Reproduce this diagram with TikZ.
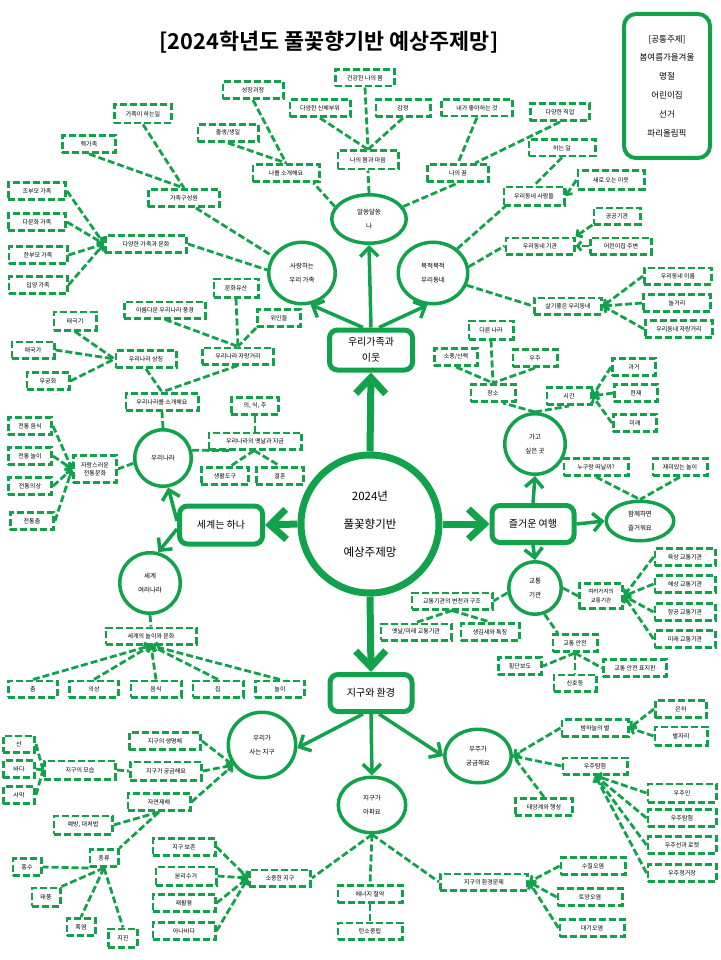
\documentclass[tikz,border=0pt]{standalone}
\usepackage{fontspec}
\setmainfont{Noto Sans CJK KR}
\newfontfamily\tfont{Noto Sans CJK KR Bold}
\usetikzlibrary{shapes.geometric,arrows.meta,calc}
\definecolor{G}{HTML}{12A24B}
\tikzset{
  db/.style={draw=G, line width=2.8pt, dash pattern=on 7pt off 3pt, inner sep=1pt, align=center, font=\fontsize{6}{7.5}\selectfont},
  dl/.style={draw=G, line width=2.8pt, dash pattern=on 7pt off 3pt},
  da/.style={dl, -{Straight Barb[length=4pt,width=9pt]}},
  el/.style={draw=G, line width=3.5pt, ellipse, inner sep=0pt, align=center, font=\fontsize{6.5}{13.5}\selectfont},
  cl/.style={draw=G, line width=3.5pt, circle, inner sep=0pt, align=center, font=\fontsize{6.5}{13.5}\selectfont},
  mb/.style={draw=G, line width=5pt, rounded corners=8pt, align=center, font=\fontsize{10}{16}\selectfont},
  big/.style={draw=G, line width=7pt, -{Straight Barb[length=16pt,width=30pt]}},
  mid/.style={draw=G, line width=3.5pt, -{Straight Barb[length=9pt,width=18pt]}}
}
\newcommand\bx[6]{\node[db,minimum width={#4pt-2.8pt},minimum height={#5pt-2.8pt}] (#1) at (#2,#3) {#6};}
\newcommand\elp[6]{\node[el,minimum width={#4pt-3.5pt},minimum height={#5pt-3.5pt}] (#1) at (#2,#3) {#6};}
\newcommand\crc[5]{\node[cl,minimum size={#4pt-3.5pt}] (#1) at (#2,#3) {#5};}
\begin{document}
\begin{tikzpicture}[x=1pt,y=-1pt]
\useasboundingbox (0,0) rectangle (720,960);
% title and common theme
\node[font=\tfont\fontsize{21.8}{25}\selectfont] (title) at (329,42) {[2024학년도 풀꽃향기반 예상주제망]};
\node[draw=G, line width=4pt, rounded corners=12pt, minimum width=86pt, minimum height=144pt, align=center, font=\fontsize{8.5}{18.8}\selectfont] (ct) at (667,86) {[공통주제]\\봄여름가을겨울\\명절\\어린이집\\선거\\파리올림픽};
% center
\node[draw=G, line width=7pt, circle, minimum size=138pt, align=center, font=\fontsize{11.5}{28}\selectfont] (C) at (370,524) {2024년\\풀꽃향기반\\예상주제망};
\node[mb, minimum width=83pt, minimum height=40pt] (B1) at (371,350) {우리가족과\\이웃};
\node[mb, minimum width=83pt, minimum height=38pt] (B2) at (221,525) {세계는 하나};
\node[mb, minimum width=82pt, minimum height=37pt] (B3) at (533,524) {즐거운 여행};
\node[mb, minimum width=82pt, minimum height=37pt] (B4) at (371,693) {지구와 환경};
\draw[big] (C.north) -- (B1.south);
\draw[big] (C.west) -- (B2.east);
\draw[big] (C.east) -- (B3.west);
\draw[big] (C.south) -- (B4.north);
% level 2
\elp{E1}{369}{219}{78}{52}{알쏭달쏭\\나}
\elp{E2}{302}{273}{70}{65}{사랑하는\\우리 가족}
\elp{E3}{433}{273}{73}{65}{북적북적\\우리동네}
\crc{E4}{163}{458}{60}{우리나라}
\crc{E5}{150}{583}{64}{세계\\여러나라}
\crc{E6}{535}{444}{64}{가고\\싶은 곳}
\elp{E7}{640}{521}{71}{43}{함께하면\\즐거워요}
\crc{E8}{535}{588}{56}{교통\\기관}
\elp{E9}{262}{745}{71}{69}{우리가\\사는 지구}
\elp{E10}{372}{805}{71}{59}{지구가\\아파요}
\elp{E11}{478}{756}{70}{57}{우주가\\궁금해요}
\draw[mid] (B1.north) -- (E1.south);
\draw[mid] ($(B1.north)+(-8,0)$) -- (E2.-75);
\draw[mid] ($(B1.north)+(8,0)$) -- (E3.-100);
\draw[mid] ($(B2.west)+(0,-4)$) -- (E4.-80);
\draw[mid] ($(B2.west)+(0,4)$) -- (E5.75);
\draw[mid] (B3.north) -- (E6.south);
\draw[mid] (B3.east) -- (E7.west);
\draw[mid] (B3.south) -- (E8.north);
\draw[mid] ($(B4.south)+(-8,0)$) -- (E9.-5);
\draw[mid] (B4.south) -- (E10.north);
\draw[mid] ($(B4.south)+(8,0)$) -- (E11.west);
% 알쏭달쏭 나
\bx{n1}{368}{160}{63}{21}{나의 몸과 마음}
\bx{n2}{365}{78}{62}{19}{건강한 나의 몸}
\bx{n3}{320}{108}{63}{20}{다양한 신체부위}
\bx{n4}{403}{108}{57}{20}{감정}
\bx{n5}{286}{173}{69}{20}{나를 소개해요}
\bx{n6}{253}{90}{63}{20}{성장과정}
\bx{n7}{228}{133}{63}{20}{출생/생일}
\bx{n8}{458}{173}{64}{20}{나의 꿈}
\bx{n9}{477}{108}{74}{19}{내가 좋아하는 것}
\bx{n10}{560}{112}{62}{20}{다양한 직업}
\draw[dl] (E1.north) -- (n1.south);
\draw[dl] (E1.160) -- (n5.-20);
\draw[dl] (E1.20) -- (n8.south);
\draw[dl] (n2.south) -- (n1.north);
\draw[dl] (n3.south) -- (n1.north);
\draw[dl] (n4.south) -- (n1.north);
\draw[dl] (n6.south) -- (n5.north);
\draw[dl] (n7.south) -- (n5.north);
\draw[dl] (n9.south) -- (n8.north);
\draw[dl] (n10.south) -- (n8.30);
% 북적북적 우리동네
\bx{n11}{562}{148}{69}{19}{하는 일}
\bx{n12}{534}{196}{63}{21}{우리동네 사람들}
\bx{n13}{611}{180}{69}{21}{새로 오는 이웃}
\bx{n14}{617}{216}{49}{19}{공공기관}
\bx{n15}{540}{246}{71}{19}{우리동네 기관}
\bx{n16}{621}{246}{64}{19}{어린이집 주변}
\bx{n17}{568}{306}{70}{19}{살기좋은 우리동네}
\bx{n18}{678}{276}{70}{19}{우리동네 이름}
\bx{n19}{677}{303}{70}{20}{놀거리}
\bx{n20}{679}{329}{70}{20}{우리동네 자랑거리}
\draw[dl] (E3.45) -- (n12.200);
\draw[dl] (E3.10) -- (n15.west);
\draw[dl] (E3.-20) -- (n17.west);
\draw[dl] (n11.south) -- (n12.north);
\draw[da] (n13.west) -- (n12.east);
\draw[da] (n14.200) -- (n15.north east);
\draw[da] (n16.west) -- (n15.east);
\draw[da] (n18.west) -- (n17.east);
\draw[da] (n19.west) -- (n17.east);
\draw[da] (n20.west) -- (n17.east);
% 사랑하는 우리 가족
\bx{f1}{143}{114}{60}{21}{가족이 하는일}
\bx{f2}{89}{144}{56}{20}{핵가족}
\bx{f3}{184}{198}{74}{20}{가족구성원}
\bx{f4}{37}{191}{60}{20}{조부모 가족}
\bx{f5}{37}{222}{60}{20}{다문화 가족}
\bx{f6}{146}{244}{84}{20}{다양한 가족과 문화}
\bx{f7}{38}{255}{61}{20}{한부모 가족}
\bx{f8}{38}{285}{61}{20}{입양 가족}
\draw[dl] (f3.-40) -- (E2.150);
\draw[dl] (f6.east) -- (E2.175);
\draw[dl] (f1.south) -- (f3.north);
\draw[dl] (f2.south) -- (f3.north);
\draw[da] (f4.east) -- (f6.west);
\draw[da] (f5.east) -- (f6.west);
\draw[da] (f7.east) -- (f6.west);
\draw[da] (f8.east) -- (f6.west);
% 우리나라
\bx{k1}{236}{288}{47}{21}{문화유산}
\bx{k2}{279}{318}{46}{20}{위인들}
\bx{k3}{165}{310}{84}{19}{아름다운 우리나라 풍경}
\bx{k4}{238}{356}{74}{19}{우리나라 자랑거리}
\bx{k5}{75}{321}{45}{21}{태극기}
\bx{k6}{33}{350}{45}{19}{애국가}
\bx{k7}{146}{359}{63}{20}{우리나라 상징}
\bx{k8}{48}{381}{45}{20}{무궁화}
\bx{k9}{162}{402}{75}{20}{우리나라를 소개해요}
\bx{k10}{255}{406}{50}{20}{의, 식, 주}
\bx{k11}{255}{441}{95}{19}{우리나라의 옛날과 지금}
\bx{k12}{225}{476}{50}{20}{생활도구}
\bx{k13}{280}{476}{50}{20}{결혼}
\bx{k14}{30}{426}{46}{20}{전통 음식}
\bx{k15}{30}{456}{46}{20}{전통 놀이}
\node[db,minimum width=43.2pt,minimum height=27.2pt,font=\fontsize{6}{8.5}\selectfont] (k16) at (95,469) {자랑스러운\\전통문화};
\bx{k17}{30}{486}{46}{20}{전통의상}
\bx{k18}{32}{521}{46}{20}{전통춤}
\draw[dl] (k1.south) -- (k4.north);
\draw[dl] (k3.south) -- (k4.north);
\draw[dl] (k2.south west) -- (k4.north);
\draw[dl] (k4.south) -- (k9.north);
\draw[dl] (k7.south) -- (k9.north);
\draw[dl] (k5.south) -- (k7.west);
\draw[dl] (k6.east) -- (k7.west);
\draw[dl] (k8.east) -- (k7.west);
\draw[dl] (E4.north) -- (k9.south);
\draw[dl] (E4.15) -- (k11.200);
\draw[dl] (k10.south) -- (k11.north);
\draw[dl] (k11.265) -- (k12.60);
\draw[dl] (k11.265) -- (k13.north);
\draw[dl] (E4.190) -- (k16.east);
\draw[da] (k14.east) -- (k16.west);
\draw[da] (k15.east) -- (k16.west);
\draw[da] (k17.east) -- (k16.west);
\draw[da] (k18.east) -- (k16.west);
% 세계 여러나라
\bx{w1}{151}{636}{93}{19}{세계의 놀이와 문화}
\bx{w2}{33}{689}{52}{19}{춤}
\bx{w3}{94}{689}{52}{19}{의상}
\bx{w4}{156}{689}{53}{19}{음식}
\bx{w5}{218}{689}{53}{19}{집}
\bx{w6}{280}{689}{52}{19}{놀이}
\draw[dl] (E5.south) -- (w1.north);
\foreach \w in {w2,w3,w4,w5,w6} \draw[da] (\w.north) -- (w1.south);
% 가고 싶은 곳
\bx{t1}{491}{330}{47}{21}{다른 나라}
\bx{t2}{535}{358}{47}{20}{우주}
\bx{t3}{456}{357}{46}{20}{소풍/산책}
\bx{t4}{493}{393}{47}{20}{장소}
\bx{t5}{569}{396}{47}{20}{시간}
\bx{t6}{634}{367}{46}{20}{과거}
\bx{t7}{636}{393}{46}{20}{현재}
\bx{t8}{635}{423}{46}{20}{미래}
\bx{t9}{596}{467}{67}{20}{누구랑 떠날까?}
\bx{t10}{680}{467}{57}{20}{재미있는 놀이}
\draw[dl] (E6.north) -- (t4.-45);
\draw[dl] (E6.north) -- (t5.south);
\draw[dl] (t1.south) -- (t4.north);
\draw[dl] (t2.south) -- (t4.north);
\draw[dl] (t3.south) -- (t4.north);
\draw[da] (t6.west) -- (t5.east);
\draw[da] (t7.west) -- (t5.east);
\draw[da] (t8.west) -- (t5.east);
\draw[dl] (t9.south) -- (E7.north);
\draw[dl] (t10.south) -- (E7.north);
% 교통 기관
\node[db,minimum width=43.2pt,minimum height=25.2pt,font=\fontsize{5.5}{9.5}\selectfont] (v1) at (601,596) {여러가지의\\교통기관};
\bx{v2}{685}{557}{63}{20}{육상 교통기관}
\bx{v3}{685}{584}{63}{20}{해상 교통기관}
\bx{v4}{685}{612}{63}{20}{항공 교통기관}
\bx{v5}{685}{639}{63}{20}{미래 교통기관}
\bx{v6}{452}{601}{83}{19}{교통기관의 변천과 구조}
\bx{v7}{416}{632}{73}{19}{옛날/미래 교통기관}
\bx{v8}{490}{632}{61}{20}{생김새와 특징}
\bx{v9}{575}{643}{47}{20}{교통 안전}
\bx{v10}{520}{666}{46}{20}{횡단보도}
\bx{v11}{575}{683}{45}{19}{신호등}
\bx{v12}{635}{668}{66}{20}{교통 안전 표지판}
\draw[dl] (E8.east) -- (v1.west);
\foreach \v in {v2,v3,v4,v5} \draw[da] (\v.west) -- (v1.east);
\draw[dl] (E8.190) -- (v6.east);
\draw[dl] (v6.south) -- (v7.north);
\draw[dl] (v6.south) -- (v8.north);
\draw[dl] (E8.-70) -- (v9.150);
\draw[dl] (v9.south) -- (v10.east);
\draw[dl] (v9.south) -- (v11.north);
\draw[dl] (v9.south) -- (v12.west);
% 우리가 사는 지구
\bx{e1}{165}{741}{74}{20}{지구의 생명체}
\bx{e2}{166}{771}{74}{21}{지구가 궁금해요}
\bx{e3}{159}{802}{65}{20}{자연재해}
\bx{e4}{80}{770}{74}{21}{지구의 모습}
\bx{e5}{19}{744}{34}{19}{산}
\bx{e6}{19}{769}{34}{20}{바다}
\bx{e7}{19}{795}{34}{20}{사막}
\bx{e8}{83}{825}{61}{21}{예방, 대처법}
\bx{e9}{104}{858}{31}{20}{종류}
\bx{e10}{27}{867}{31}{20}{홍수}
\bx{e11}{46}{897}{31}{21}{태풍}
\bx{e12}{81}{927}{31}{20}{폭염}
\bx{e13}{123}{938}{32}{21}{지진}
\draw[da] (e1.east) -- (E9.215);
\draw[da] (e2.east) -- (E9.215);
\draw[da] (e3.east) -- (E9.215);
\draw[dl] (e4.east) -- (e2.west);
\draw[dl] (e5.east) -- (e4.west);
\draw[dl] (e6.east) -- (e4.west);
\draw[dl] (e7.east) -- (e4.west);
\draw[dl] (e3.south) -- (e8.east);
\draw[dl] (e3.south) -- (e9.north east);
\draw[dl] (e9.south west) -- (e10.east);
\draw[dl] (e9.south) -- (e11.north east);
\draw[dl] (e9.south) -- (e12.north);
\draw[dl] (e9.south) -- (e13.north);
% 지구가 아파요
\bx{e14}{184}{847}{65}{20}{지구 보존}
\bx{e15}{186}{876}{63}{21}{분리수거}
\bx{e16}{184}{903}{65}{20}{재활용}
\bx{e17}{184}{931}{65}{20}{아나바다}
\bx{e18}{280}{878}{64}{19}{소중한 지구}
\bx{e19}{370}{894}{67}{20}{에너지 절약}
\bx{e20}{370}{931}{67}{19}{탄소중립}
\bx{e21}{484}{882}{90}{19}{지구의 환경문제}
\bx{e22}{593}{866}{67}{20}{수질오염}
\bx{e23}{590}{897}{67}{20}{토양오염}
\bx{e24}{592}{928}{67}{20}{대기오염}
\draw[dl] (E10.south) -- (e18.east);
\draw[dl] (E10.south) -- (e19.north);
\draw[dl] (E10.south) -- (e21.west);
\draw[dl] (e19.south) -- (e20.north);
\foreach \e in {e14,e15,e16,e17} \draw[da] (\e.east) -- (e18.west);
\foreach \e in {e22,e23,e24} \draw[da] (\e.west) -- (e21.east);
% 우주가 궁금해요
\bx{s1}{595}{728}{69}{20}{밤하늘의 별}
\bx{s2}{681}{709}{54}{20}{은하}
\bx{s3}{681}{736}{55}{21}{별자리}
\bx{s4}{595}{766}{67}{19}{우주탐험}
\bx{s5}{544}{807}{60}{20}{태양계와 행성}
\bx{s6}{682}{793}{71}{21}{우주인}
\bx{s7}{682}{818}{71}{20}{우주탐험}
\bx{s8}{682}{845}{71}{20}{우주선과 로켓}
\bx{s9}{682}{873}{71}{20}{우주정거장}
\draw[da] (s1.west) -- (E11.east);
\draw[da] (s4.west) -- (E11.east);
\draw[dl] (s5.north) -- (E11.east);
\draw[da] (s2.west) -- (s1.east);
\draw[da] (s3.west) -- (s1.east);
\foreach \s in {s6,s7,s8,s9} \draw[da] (\s.west) -- (s4.south);
\end{tikzpicture}
\end{document}
